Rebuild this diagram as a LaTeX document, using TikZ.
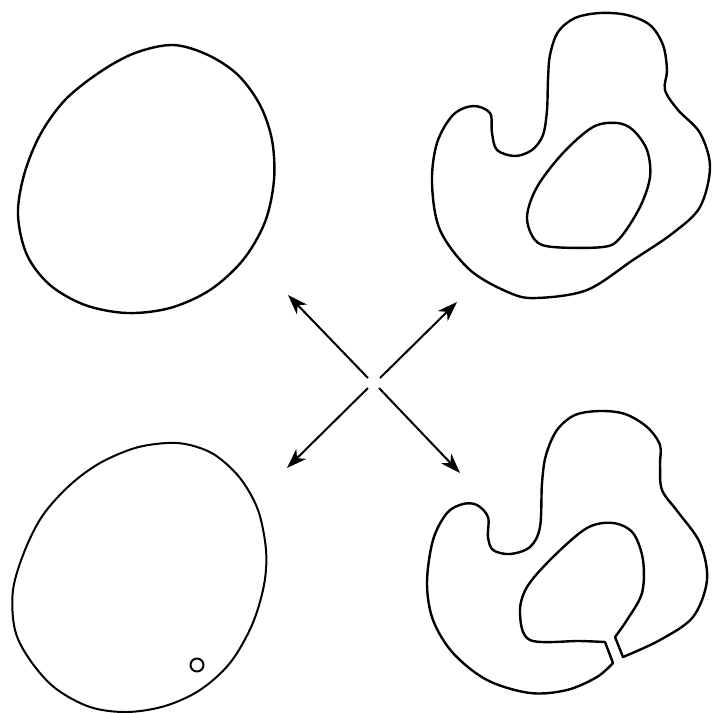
\documentclass[tikz,border=0pt]{standalone}
\usetikzlibrary{arrows.meta}
\begin{document}
\begin{tikzpicture}[x=0.5pt,y=-0.5pt,
  contour/.style={line width=1.2pt,line join=round,line cap=round},
  thincontour/.style={line width=1.0pt,line join=round,line cap=round},
  arr/.style={line width=1.0pt,-{Stealth[length=10pt,width=7pt,inset=3pt]}}]
\useasboundingbox (0,0) rectangle (713,713);
\fill[white] (0,0) rectangle (713,713);
% top-left blob
\draw[contour] plot[smooth cycle,tension=0.55] coordinates {
 (173,45) (135,53) (100,72) (65,100) (40,135) (24,175) (18,215) (27,255)
 (50,285) (85,305) (127,313) (170,308) (210,290) (243,260) (265,222)
 (274,180) (272,140) (260,105) (238,75) (208,55)};
% bottom-left blob
\draw[thincontour] plot[smooth cycle,tension=0.55] coordinates {
 (167,443) (135,448) (100,463) (70,485) (43,515) (25,550) (13,590) (15,630)
 (30,660) (55,688) (90,707) (127,712) (165,706) (200,690) (230,663)
 (252,625) (264,585) (266,550) (258,510) (240,478) (215,455) (190,445)};
\draw[thincontour] (197,665) circle[radius=6.5];
% top-right shape
\draw[contour] plot[smooth cycle,tension=0.55] coordinates {
 (600,13) (575,18) (558,32) (550,55) (548,80) (547,110) (543,135) (532,150)
 (515,156) (497,150) (492,133) (490,113) (473,106) (453,115) (437,143)
 (432,183) (440,230) (470,270) (510,293) (537,298) (587,290) (633,260)
 (673,233) (700,207) (710,167) (700,133) (678,110) (665,90) (667,70)
 (663,45) (650,25) (627,15)};
\draw[contour] plot[smooth cycle,tension=0.55] coordinates {
 (617,123) (593,127) (563,153) (537,187) (527,217) (535,240) (553,247)
 (603,247) (620,238) (640,207) (650,177) (647,150) (633,130)};
% bottom-right shape with channel
\draw[contour] plot[smooth,tension=0.55] coordinates {
 (623,657) (660,640) (693,617) (707,580) (700,543) (678,512) (662,490)
 (660,465) (660,445) (647,427) (625,414) (600,411) (575,415) (557,430)
 (546,455) (542,483) (540,527) (530,547) (510,554) (493,550) (488,537)
 (488,517) (477,505) (463,504) (447,513) (433,540) (427,583) (433,620)
 (453,653) (487,680) (530,693) (567,690) (597,677) (613,663)};
\draw[contour] plot[smooth,tension=0.55] coordinates {
 (605,642) (580,641) (530,640) (520,613) (527,587) (553,557) (587,528)
 (613,523) (633,533) (643,560) (642,593) (627,620) (615,637)};
\draw[contour] (613,663) -- (605,642);
\draw[contour] (615,637) -- (623,657);
% arrows
\coordinate (cul) at (368,378);
\coordinate (cur) at (380,378);
\coordinate (cll) at (368,388);
\coordinate (clr) at (379,388);
\coordinate (tul) at (288,295);
\coordinate (tur) at (457,302);
\coordinate (tll) at (287,468);
\coordinate (tlr) at (460,473);
\draw[arr] (cul) -- (tul);
\draw[arr] (cur) -- (tur);
\draw[arr] (cll) -- (tll);
\draw[arr] (clr) -- (tlr);
\end{tikzpicture}
\end{document}
